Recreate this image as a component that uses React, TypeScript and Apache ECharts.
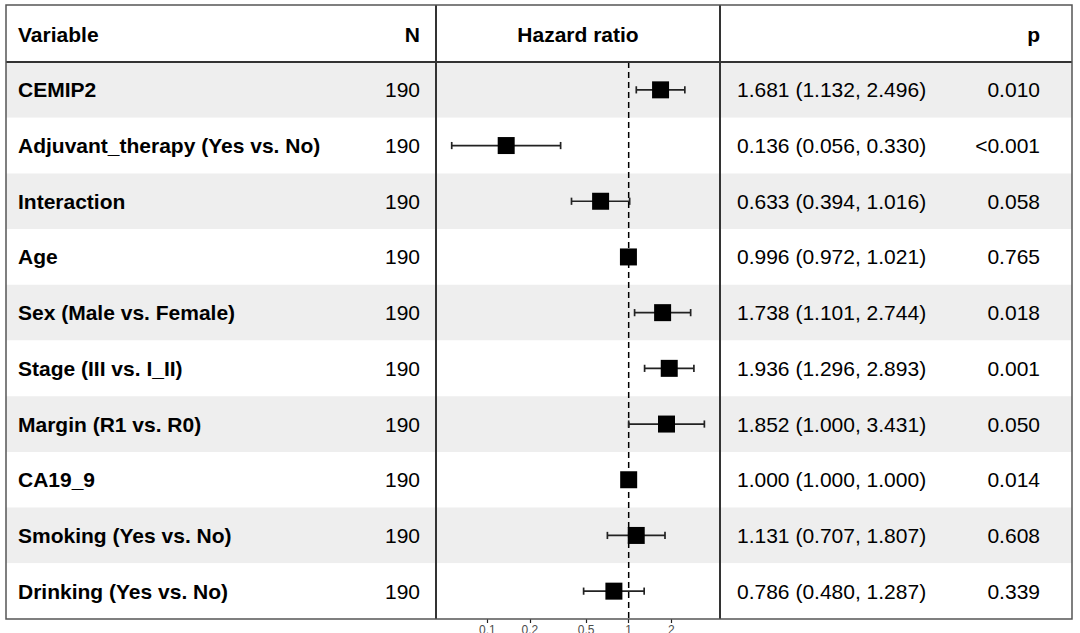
import React, { useEffect, useRef } from "react";
import * as echarts from "echarts";

const variables = [
  "CEMIP2",
  "Adjuvant_therapy (Yes vs. No)",
  "Interaction",
  "Age",
  "Sex (Male vs. Female)",
  "Stage (III vs. I_II)",
  "Margin (R1 vs. R0)",
  "CA19_9",
  "Smoking (Yes vs. No)",
  "Drinking (Yes vs. No)",
];
const nValues = [190, 190, 190, 190, 190, 190, 190, 190, 190, 190];
const hazardRatios = [1.681, 0.136, 0.633, 0.996, 1.738, 1.936, 1.852, 1.0, 1.131, 0.786];
const lowerCI = [1.132, 0.056, 0.394, 0.972, 1.101, 1.296, 1.0, 1.0, 0.707, 0.48];
const upperCI = [2.496, 0.33, 1.016, 1.021, 2.744, 2.893, 3.431, 1.0, 1.807, 1.287];
const pValues = ["0.010", "<0.001", "0.058", "0.765", "0.018", "0.001", "0.050", "0.014", "0.608", "0.339"];
const tickValues = [0.1, 0.2, 0.5, 1, 2];
const referenceValue = 1;
const headers = ["Variable", "N", "Hazard ratio", "p"];

const FONT = '"Liberation Sans", Arial, sans-serif';

export default function App() {
  const ref = useRef<HTMLDivElement>(null);

  useEffect(() => {
    document.body.style.margin = "0";
    if (!ref.current) return;
    const chart = echarts.init(ref.current, undefined, { renderer: "svg" });

    const tableLeft = 6;
    const tableRight = 1072;
    const tableTop = 5;
    const headerBottom = 62;
    const tableBottom = 619;
    const plotLeft = 436;
    const plotRight = 720;

    const hrText = hazardRatios.map(
      (h, i) => `${h.toFixed(3)} (${lowerCI[i].toFixed(3)}, ${upperCI[i].toFixed(3)})`
    );

    const option: any = {
      animation: false,
      backgroundColor: "#ffffff",
      grid: [
        {
          left: tableLeft,
          right: 1080 - tableRight,
          top: headerBottom,
          bottom: 633 - tableBottom,
          containLabel: false,
          outerBoundsMode: "none",
        },
        {
          left: plotLeft,
          right: 1080 - plotRight,
          top: headerBottom,
          bottom: 633 - tableBottom,
          containLabel: false,
          outerBoundsMode: "none",
        },
      ],
      xAxis: [
        { type: "value", gridIndex: 0, min: 0, max: 1, show: false },
        {
          type: "value",
          gridIndex: 1,
          position: "bottom",
          min: -1.363,
          max: 0.646,
          axisLine: { show: false, onZero: false },
          splitLine: { show: false },
          axisTick: {
            show: true,
            length: 4,
            customValues: tickValues.map((t) => Math.log10(t)),
            lineStyle: { color: "#222222", width: 1.2 },
          },
          axisLabel: {
            show: true,
            customValues: tickValues.map((t) => Math.log10(t)),
            formatter: (v: number) => String(parseFloat(Math.pow(10, v).toPrecision(2))),
            fontSize: 12,
            color: "#4D4D4D",
            fontFamily: FONT,
            margin: 5,
          },
        },
      ],
      yAxis: [
        { type: "value", gridIndex: 0, min: -0.5, max: 9.5, inverse: true, show: false },
        { type: "value", gridIndex: 1, min: -0.5, max: 9.5, inverse: true, show: false },
      ],
      series: [
        {
          type: "custom",
          xAxisIndex: 0,
          yAxisIndex: 0,
          z: 0,
          silent: true,
          data: variables.map((_, i) => [0, i]),
          encode: { x: 0, y: 1 },
          renderItem: (params: any, api: any) => {
            const idx = api.value(1);
            const pt = api.coord([0, idx]);
            const h = Math.abs(api.coord([0, idx + 0.5])[1] - api.coord([0, idx - 0.5])[1]);
            const cs = params.coordSys;
            const y = pt[1];
            const txt = (x: number, text: string, bold: boolean, align: string) => ({
              type: "text",
              x,
              y,
              style: {
                text,
                fill: "#000000",
                font: `${bold ? "bold " : ""}21px ${FONT}`,
                align,
                verticalAlign: "middle",
              },
            });
            return {
              type: "group",
              children: [
                {
                  type: "rect",
                  shape: { x: cs.x, y: y - h / 2, width: cs.width, height: h },
                  style: { fill: idx % 2 === 0 ? "#EEEEEE" : "#FFFFFF" },
                },
                txt(cs.x + 12, variables[idx], true, "left"),
                txt(420, String(nValues[idx]), false, "right"),
                txt(737, hrText[idx], false, "left"),
                txt(1040, pValues[idx], false, "right"),
              ],
            };
          },
        },
        {
          type: "custom",
          xAxisIndex: 1,
          yAxisIndex: 1,
          z: 1,
          silent: true,
          data: [[Math.log10(referenceValue), 0]],
          encode: { x: 0, y: 1 },
          renderItem: (params: any, api: any) => {
            const cs = params.coordSys;
            const p = api.coord([api.value(0), 0]);
            return {
              type: "line",
              shape: { x1: p[0], y1: cs.y, x2: p[0], y2: cs.y + cs.height },
              style: { stroke: "#000000", lineWidth: 1.5, lineDash: [6, 4] },
            };
          },
        },
        {
          type: "custom",
          xAxisIndex: 1,
          yAxisIndex: 1,
          z: 2,
          silent: true,
          data: hazardRatios.map((_, i) => [Math.log10(lowerCI[i]), Math.log10(upperCI[i]), i]),
          encode: { x: [0, 1], y: 2 },
          renderItem: (params: any, api: any) => {
            const idx = api.value(2);
            const lo = api.coord([api.value(0), idx]);
            const hi = api.coord([api.value(1), idx]);
            const cap = 3.6;
            const ls = { stroke: "#222222", lineWidth: 1.7 };
            return {
              type: "group",
              children: [
                { type: "line", shape: { x1: lo[0], y1: lo[1], x2: hi[0], y2: hi[1] }, style: ls },
                { type: "line", shape: { x1: lo[0], y1: lo[1] - cap, x2: lo[0], y2: lo[1] + cap }, style: ls },
                { type: "line", shape: { x1: hi[0], y1: hi[1] - cap, x2: hi[0], y2: hi[1] + cap }, style: ls },
              ],
            };
          },
        },
        {
          type: "scatter",
          xAxisIndex: 1,
          yAxisIndex: 1,
          z: 3,
          silent: true,
          symbol: "rect",
          symbolSize: 17,
          itemStyle: { color: "#000000", opacity: 1 },
          data: hazardRatios.map((h, i) => [Math.log10(h), i]),
        },
      ],
      graphic: [
        {
          type: "text",
          x: 18,
          y: 34,
          z: 10,
          style: { text: headers[0], font: `bold 21px ${FONT}`, fill: "#000", align: "left", verticalAlign: "middle" },
        },
        {
          type: "text",
          x: 420,
          y: 34,
          z: 10,
          style: { text: headers[1], font: `bold 21px ${FONT}`, fill: "#000", align: "right", verticalAlign: "middle" },
        },
        {
          type: "text",
          x: (plotLeft + plotRight) / 2,
          y: 34,
          z: 10,
          style: { text: headers[2], font: `bold 21px ${FONT}`, fill: "#000", align: "center", verticalAlign: "middle" },
        },
        {
          type: "text",
          x: 1040,
          y: 34,
          z: 10,
          style: { text: headers[3], font: `bold 21px ${FONT}`, fill: "#000", align: "right", verticalAlign: "middle" },
        },
        {
          type: "line",
          z: 10,
          shape: { x1: tableLeft, y1: headerBottom, x2: tableRight, y2: headerBottom },
          style: { stroke: "#333333", lineWidth: 2 },
        },
        {
          type: "line",
          z: 10,
          shape: { x1: plotLeft, y1: tableTop, x2: plotLeft, y2: tableBottom },
          style: { stroke: "#333333", lineWidth: 2 },
        },
        {
          type: "line",
          z: 10,
          shape: { x1: plotRight, y1: tableTop, x2: plotRight, y2: tableBottom },
          style: { stroke: "#333333", lineWidth: 2 },
        },
        {
          type: "rect",
          z: 10,
          shape: { x: tableLeft, y: tableTop, width: tableRight - tableLeft, height: tableBottom - tableTop },
          style: { fill: "none", stroke: "#555555", lineWidth: 1.5 },
        },
      ],
    };

    chart.setOption(option);
    return () => chart.dispose();
  }, []);

  return <div ref={ref} style={{ width: 1080, height: 633 }} />;
}
